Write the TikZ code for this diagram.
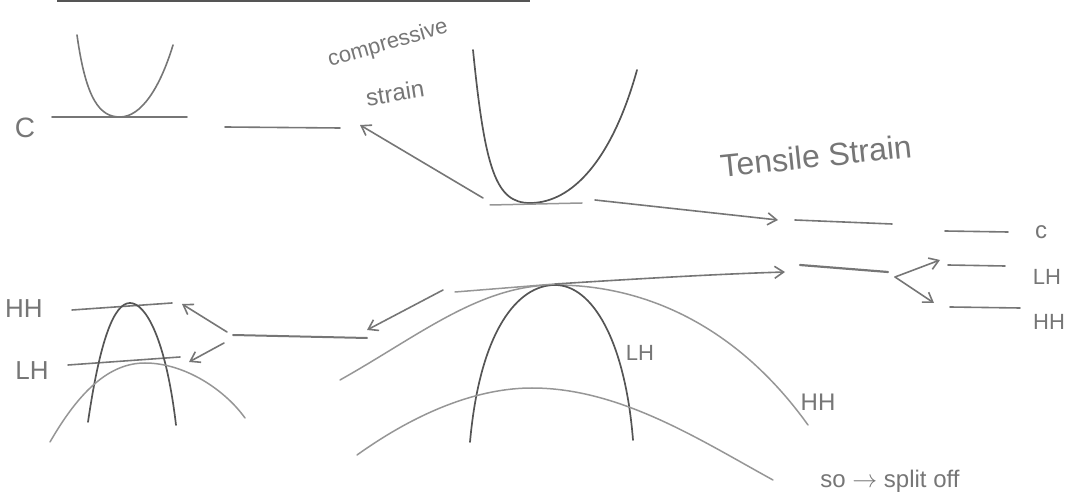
\documentclass[tikz,border=0pt]{standalone}
\usepackage{fontspec}
\setmainfont{Liberation Sans}
\usetikzlibrary{arrows.meta}
\definecolor{ink}{RGB}{118,118,118}
\definecolor{darkink}{RGB}{85,85,85}
\definecolor{lightink}{RGB}{150,150,150}
\tikzset{
  pen/.style={draw=ink,line width=1.6pt,line cap=round,line join=round},
  darkpen/.style={draw=darkink,line width=1.7pt,line cap=round},
  lightpen/.style={draw=lightink,line width=1.5pt,line cap=round},
  arr/.style={pen,-{Straight Barb[length=9pt,width=12pt,line width=1.6pt]}},
  lbl/.style={text=ink,inner sep=0pt,font=\fontsize{#1}{#1}\selectfont},
  lbl/.default=22
}
\begin{document}
\begin{tikzpicture}[x=1pt,y=-1pt]
\useasboundingbox (0,0) rectangle (1068,502);
% top rule
\draw[draw=darkink,line width=2.5pt] (57,1) -- (530,1);

% ---- top-left: compressive strain conduction band ----
\draw[pen] (77,35) .. controls (86,100) and (100,117) .. (120,117) .. controls (141,117) and (160,88) .. (173,45);
\draw[pen] (52,117) -- (187,117);
\node[lbl=28] (lC) at (25,128) {C};
\coordinate (cL1) at (225,127);
\coordinate (cL2) at (340,128);
\draw[pen] (cL1) -- (cL2);
\node[lbl=22,rotate=16] (comp) at (388,44) {compressive};
\node[lbl=24,rotate=9] (strn) at (395,93) {strain};

% ---- centre: unstrained conduction band ----
\draw[darkpen] (473,50) .. controls (485,170) and (496,203) .. (530,203) .. controls (572,203) and (612,160) .. (637,70);
\draw[lightpen] (490,205) -- (582,203);
\coordinate (cbL) at (483,198);
\coordinate (cbR) at (595,200);
\coordinate (tenC) at (778,220);
\coordinate (compC) at (360,125);
\draw[arr] (cbL) -- (compC);
\draw[arr] (cbR) -- (tenC);

% ---- tensile strain conduction band ----
\node[lbl=32,rotate=6] (tens) at (816,156) {Tensile Strain};
\coordinate (tC1) at (795,220);
\coordinate (tC2) at (892,224);
\draw[pen] (tC1) -- (tC2);
\coordinate (rC1) at (945,231);
\coordinate (rC2) at (1008,232);
\draw[pen] (rC1) -- (rC2);
\node[lbl=24] (lc) at (1041,232) {c};

% ---- centre valence bands ----
\draw[lightpen] (340,380) .. controls (420,335) and (480,285) .. (555,285) .. controls (650,285) and (740,330) .. (808,425);
\draw[darkpen] (470,442) .. controls (480,330) and (518,285) .. (555,285) .. controls (592,285) and (625,340) .. (633,440);
\draw[lightpen] (357,455) .. controls (420,410) and (480,388) .. (532,388) .. controls (620,388) and (700,440) .. (773,480);
\coordinate (vbTop) at (555,284);
\coordinate (vbLs) at (443,290);
\coordinate (vbLl) at (455,292);
\draw[lightpen] (vbLl) -- (vbTop);
\node[lbl=22] (cLH) at (640,353) {LH};
\node[lbl=24] (cHH) at (818,402) {HH};
\node[lbl=24] (so) at (890,481) {so $\to$ split off};

% ---- tensile valence bands ----
\coordinate (tV) at (785,272);
\draw[arr] (vbTop) .. controls (650,278) and (720,274) .. (tV);
\coordinate (tV1) at (800,265);
\coordinate (tV2) at (888,272);
\draw[pen,line width=2.2pt] (tV1) -- (tV2);
\coordinate (sp) at (895,277);
\coordinate (spU) at (940,260);
\coordinate (spD) at (934,303);
\draw[arr] (sp) -- (spU);
\draw[arr] (sp) -- (spD);
\coordinate (rLH1) at (948,265);
\coordinate (rLH2) at (1005,266);
\draw[pen] (rLH1) -- (rLH2);
\coordinate (rHH1) at (950,307);
\coordinate (rHH2) at (1020,308);
\draw[pen] (rHH1) -- (rHH2);
\node[lbl=22] (rLH) at (1047,277) {LH};
\node[lbl=22] (rHH) at (1049,322) {HH};

% ---- compressive valence bands ----
\coordinate (cV) at (367,330);
\draw[arr] (vbLs) -- (cV);
\coordinate (cV1) at (233,335);
\coordinate (cV2) at (367,338);
\draw[pen,line width=2pt] (cV1) -- (cV2);
\coordinate (cVs1) at (227,332);
\coordinate (cVs2) at (224,343);
\coordinate (cHHa) at (182,304);
\coordinate (cLHa) at (189,362);
\draw[arr] (cVs1) -- (cHHa);
\draw[arr] (cVs2) -- (cLHa);
\draw[pen] (72,310) -- (172,303);
\draw[pen] (68,365) -- (180,357);
\draw[darkpen] (88,422) .. controls (100,340) and (114,303) .. (130,303) .. controls (146,303) and (166,340) .. (176,425);
\draw[lightpen] (50,442) .. controls (80,390) and (110,363) .. (145,363) .. controls (185,363) and (225,390) .. (245,418);
\node[lbl=26] (lHH) at (24,309) {HH};
\node[lbl=26] (lLH) at (32,371) {LH};
\end{tikzpicture}
\end{document}
